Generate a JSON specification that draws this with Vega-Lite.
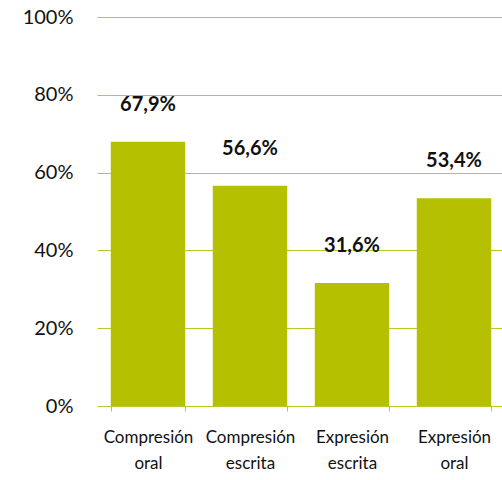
{
  "$schema": "https://vega.github.io/schema/vega-lite/v6.json",
  "autosize": "none",
  "padding": {"left": 97, "top": 17, "right": 0, "bottom": 74},
  "width": 408,
  "height": 389,
  "background": "white",
  "data": {
    "values": [
      {"cat": "Compresión oral", "value": 0.679, "label": "67,9%"},
      {"cat": "Compresión escrita", "value": 0.566, "label": "56,6%"},
      {"cat": "Expresión escrita", "value": 0.316, "label": "31,6%"},
      {"cat": "Expresión oral", "value": 0.534, "label": "53,4%"}
    ]
  },
  "config": {
    "view": {"stroke": null},
    "font": "Lato"
  },
  "encoding": {
    "x": {
      "field": "cat",
      "type": "nominal",
      "sort": null,
      "scale": {"paddingInner": 0.27, "paddingOuter": 0.135},
      "axis": {
        "title": null,
        "labelAngle": 0,
        "labelExpr": "split(datum.label, ' ')",
        "labelFontSize": 17,
        "labelLineHeight": 26,
        "labelPadding": 18,
        "labelColor": "#111111",
        "domainColor": "#bcc82a",
        "tickColor": "#bcc82a",
        "tickBand": "extent",
        "tickSize": 5,
        "grid": false
      }
    },
    "y": {
      "field": "value",
      "type": "quantitative",
      "scale": {"domain": [0, 1]},
      "axis": {
        "title": null,
        "values": [0, 0.2, 0.4, 0.6, 0.8, 1],
        "format": ".0%",
        "domain": false,
        "ticks": false,
        "labelPadding": 24,
        "labelFontSize": 20,
        "labelColor": "#111111",
        "gridColor": "#bcc82a",
        "gridWidth": 1
      }
    }
  },
  "layer": [
    {"mark": {"type": "bar", "color": "#b5c000"}},
    {
      "mark": {"type": "text", "dy": -37, "fontSize": 20, "fontWeight": "bold", "color": "#111111"},
      "encoding": {"text": {"field": "label"}}
    }
  ]
}
